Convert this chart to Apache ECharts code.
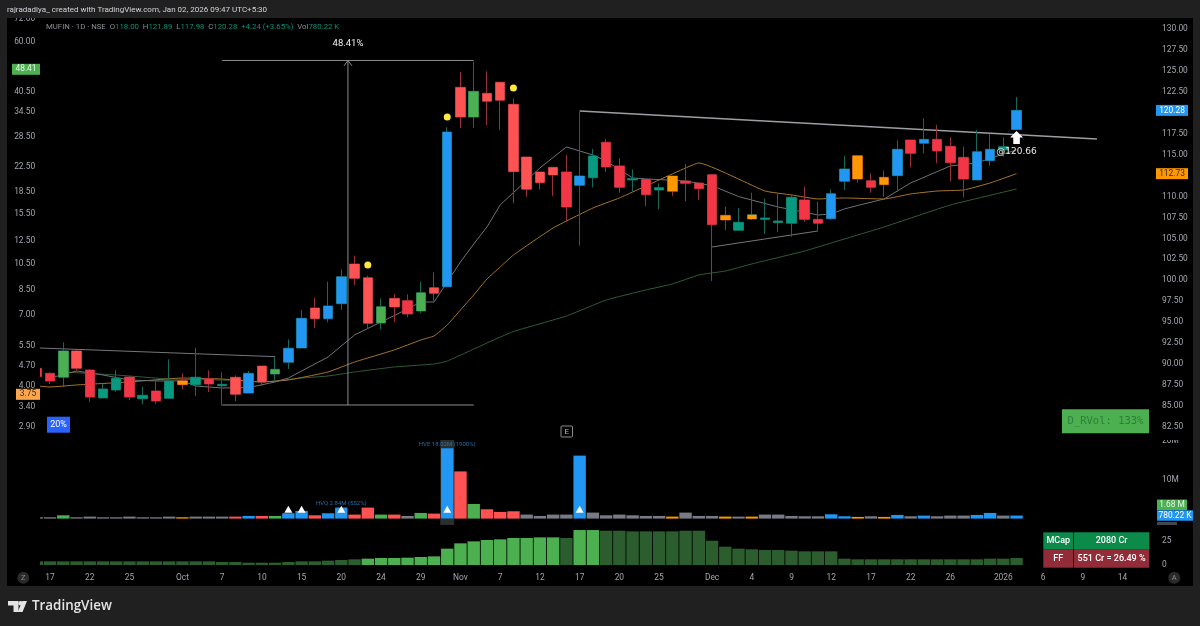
<!DOCTYPE html>
<html>
<head>
<meta charset="utf-8">
<title>MUFIN 1D</title>
<script src="https://cdn.jsdelivr.net/npm/echarts@6/dist/echarts.min.js"></script>
<style>
html, body { margin: 0; padding: 0; background: #202020; }
#main { width: 1200px; height: 626px; }
</style>
</head>
<body>
<div id="main"></div>
<script>
// candles
const opens = [89.50,88.90,88.43,91.57,89.30,85.96,86.91,88.46,85.87,86.79,
    85.92,88.02,87.54,88.26,87.42,88.43,86.55,89.77,88.82,90.22,
    91.92,96.70,95.42,97.21,101.95,100.31,94.91,97.85,97.57,96.34,
    99.12,99.24,123.04,119.49,122.32,123.64,121.01,114.72,112.93,113.49,
    112.93,111.34,112.25,116.48,113.65,111.98,112.06,110.78,112.45,111.86,
    111.62,112.61,107.76,105.97,107.32,107.28,106.88,106.81,109.59,107.28,
    107.36,111.82,114.88,111.89,112.30,112.49,116.75,116.36,116.83,116.00,
    114.68,111.98,114.28,115.56,118.00];
const closes = [88.50,87.98,91.57,89.50,86.07,87.03,88.31,86.07,86.28,85.60,
    87.98,87.54,88.43,87.63,87.59,86.40,88.90,87.86,89.38,91.89,
    95.47,95.42,96.94,100.43,100.24,94.87,96.85,96.82,95.98,98.52,
    98.45,117.70,119.49,122.56,121.37,121.49,112.97,110.87,111.65,112.57,
    108.75,112.45,114.84,113.53,111.10,112.13,110.22,111.06,110.63,111.58,
    110.94,106.64,107.20,106.93,107.83,107.44,107.08,109.91,107.28,106.81,
    110.34,113.29,112.09,111.10,111.41,115.64,115.16,116.83,115.44,114.04,
    112.09,115.35,115.64,115.95,120.28];
const highs = [89.66,89.02,92.60,91.68,89.38,87.71,89.30,88.58,87.30,87.90,
    90.57,88.90,91.96,89.26,89.02,88.66,89.21,89.77,90.88,92.96,
    96.46,97.89,99.84,101.32,102.94,100.55,97.85,98.40,98.33,99.84,
    100.96,118.27,124.87,126.06,124.95,123.64,121.73,114.72,112.93,113.49,
    114.96,120.13,115.68,116.87,114.57,113.25,112.06,111.58,112.45,113.88,
    111.62,112.61,108.79,108.63,110.46,109.74,110.39,110.22,111.18,109.39,
    110.86,114.88,114.88,112.77,113.09,116.71,116.75,119.34,118.54,117.07,
    115.95,117.94,117.47,117.07,121.89];
const lows = [88.30,87.63,87.23,89.14,85.51,85.96,86.71,85.72,85.20,85.27,
    85.92,86.99,86.19,86.67,85.08,85.56,86.55,87.39,88.10,89.42,
    91.92,94.31,94.99,96.46,99.44,94.23,94.15,94.99,95.59,96.06,
    97.57,99.24,118.18,118.18,118.54,117.94,109.19,109.98,110.87,110.07,
    107.08,104.13,111.10,112.97,110.46,110.58,108.87,108.48,110.07,109.43,
    109.59,99.92,106.01,105.97,107.20,105.53,105.80,105.21,106.96,105.92,
    107.20,110.78,111.65,110.46,109.98,110.58,113.49,115.16,113.97,111.82,
    109.91,111.98,113.68,114.76,117.98];
const bodyKinds = ('RRGrRTTRTR' + 'TOTRTrBrGB' + 'BrBBrrGrRG' + 'rBrGrrrrrr' + 'RBTRRTRTOR' +
    'RROTOTTTRR' + 'BBOROBRBRR' + 'RBBTB').split('');

const volumes = [0.34,0.34,0.85,0.34,0.51,0.34,0.34,0.51,0.34,0.34,
    0.51,0.34,0.51,0.51,0.51,0.51,0.68,0.68,0.68,1.37,
    1.97,0.85,1.37,2.84,1.03,2.82,1.03,1.03,0.68,1.45,
    1.28,18.02,12.1,3.76,2.39,1.71,1.88,1.03,0.68,1.03,
    1.03,16.15,1.54,0.85,1.03,0.85,0.68,0.68,0.51,1.54,
    0.68,0.68,0.51,0.51,0.51,1.03,1.03,0.68,0.6,0.6,
    1.11,0.6,0.43,0.6,0.43,0.94,0.6,0.77,0.6,0.77,
    0.77,0.94,1.45,0.77,0.78];
const volumeKinds = ('ggGggggggg' + 'gOgggrBrGB' + 'BrBBrrGrgG' + 'rBrGrrrggg' + 'gBggggggOg' +
    'ggOgOggggg' + 'BBOgOBgBgg' + 'gBBgB').split('');

const lowerValues = [3.86,3.86,3.86,3.86,3.86,3.86,3.86,3.86,3.86,3.86,
    3.86,3.86,3.86,3.86,3.16,3.16,2.46,2.46,2.46,3.16,
    3.86,3.86,4.56,5.26,5.96,6.67,7.37,7.37,7.7,8.4,
    9.1,17.2,22.8,24.9,26.3,27,28.4,28.4,29.1,29.1,
    28.4,36.8,36.8,36.1,36.1,35.4,35.4,35.4,35.4,36.1,
    36.1,25.6,19.3,17.2,16.5,15.8,15.8,15.1,14.4,14.4,
    14.4,6.67,6,6,6,6,6,6,6,6,
    6,6,6.67,6.67,7.4];
const lowerLight = [25,26,27,28,29,30,31,32,33,34,35,36,37,38,39,41,42];

// moving averages, [bar, price] at the places where they bend
const maFast = [[1,88.34],[3,89.18],[5,88.70],[7,88.10],[9,87.99],[11,87.99],[12,87.39],[14,87.15],[16,87.20],[18,87.87],
    [19,88.34],[22,90.85],[24,93.48],[27,95.80],[28,96.58],[29,97.41],[30,97.41],[31,99.80],[32,102.19],[33,104.34],[34,106.37],
    [35,109.00],[38,113.41],[40,115.92],[42,114.96],[43,114.24],[45,112.22],[46,112.10],[49,111.86],[51,111.30],[53,110.00],
    [56,108.75],[59,107.80],[60,107.92],[61,108.52],[62,108.93],[64,109.71],[66,111.62],[69,113.65],[71,114.01],[73,115.08],[74,115.56]];
const maMid = [[0,87.39],[1,87.27],[3,87.51],[7,87.87],[11,88.34],[14,88.22],[17,87.87],[19,88.10],[22,89.06],[24,90.25],
    [27,91.69],[29,92.88],[30,93.36],[31,94.67],[32,96.46],[33,98.25],[34,100.16],[35,101.59],[36,103.02],[39,106.25],
    [42,108.63],[44,109.83],[47,111.98],[49,113.41],[50,114.01],[55,110.66],[57,110.19],[59,109.71],[61,109.83],[64,109.71],
    [66,110.31],[68,110.66],[70,110.78],[72,111.62],[74,112.73]];
const maSlow = [[2,89.06],[6,88.70],[10,88.22],[14,88.10],[17,87.86],[20,88.34],[22,88.58],[24,89.06],[27,89.66],[30,90.01],
    [31,90.37],[34,92.52],[36,93.89],[40,95.74],[43,97.65],[46,98.85],[48,99.56],[50,100.64],[52,101.11],[54,101.95],
    [58,103.50],[60,104.46],[64,106.37],[69,108.99],[74,110.90]];

// drawn lines
const lineTopLeft = [[0.24,91.92],[18,90.89]];
const lineBig = [[41,120.21],[80.07,116.87]];
const lineLower = [[51,103.98],[59,105.89]];
const measureTop = [[14,126.24],[33,126.24]];
const measureBottom = [[14,85.12],[33,85.12]];
const measureStem = [[23.5,85.12],[23.5,126.24]];
const measureHead = [[23.2,125.6],[23.5,126.24],[23.8,125.6]];

const yellowDots = [[25,101.83],[31,119.5],[36,122.96]];
const hvTriangles = [[19,2.4],[20,2.4],[23,2.4],[31,2.4],[41,2.4]];
const hvLabels = [[23,3.87,'HVQ 2.84M (552%)'],[31,18.87,'HVE 18.02M (1900%)']];
const breakoutArrow = [74,117.05];

const priceTicks = [130,127.5,125,122.5,120,117.5,115,112.5,110,107.5,105,102.5,100,97.5,95,92.5,90,87.5,85,82.5];
const leftTicks = [72,60,40.5,34.5,28.5,22.5,18.5,15.5,12.5,10.5,8.5,7,5.5,4.7,4,3.4,2.9];
const volumeTicks = [20,10];
const lowerTicks = [25,0];

const barCount = 85;
const xTickBars = [1,4,7,11,14,17,20,23,26,29,32,35,38,41,44,47,51,54,57,60,63,66,69,73,76,79,82];
const xTickLabels = ['17','22','25','Oct','7','10','15','20','24','29','Nov','7','12','17','20','25','Dec','4','9','12','17','22','26','2026','6','9','14'];

const FONT = 'Roboto, "Liberation Sans", sans-serif';
const AXIS_TEXT = '#a3a6af';
const AXIS_SIZE = 8.4;
const RED_DIM = '#f23645', RED = '#ff5252', GREEN = '#4caf50', TEAL = '#089981', BLUE = '#2196f3', ORANGE = '#ff9800', GRAY = '#787b86';
const bodyColors = { R: RED_DIM, r: RED, G: GREEN, T: TEAL, B: BLUE, O: ORANGE };
const volumeColors = { g: GRAY, r: RED, G: GREEN, B: BLUE, O: ORANGE };
const WICK_UP = '#14695a', WICK_DOWN = '#95303c';

const BAND = 13.24;
const LEFT = 30.18;
const gridWidth = BAND * barCount;

const categories = [];
for (let i = 0; i < barCount; i++) {
    const at = xTickBars.indexOf(i);
    categories.push(at >= 0 ? xTickLabels[at] : '');
}

const wickData = opens.map((o, i) => {
    const color = closes[i] >= o ? WICK_UP : WICK_DOWN;
    return {
        value: [o, closes[i], lows[i], highs[i]],
        itemStyle: { color: 'transparent', color0: 'transparent', borderColor: color, borderColor0: color }
    };
});
const bodyData = opens.map((o, i) => {
    const color = bodyColors[bodyKinds[i]];
    return {
        value: [o, closes[i], Math.min(o, closes[i]), Math.max(o, closes[i])],
        itemStyle: { color: color, color0: color, borderColor: color, borderColor0: color, borderWidth: 0 }
    };
});
const volumeData = volumes.map((v, i) => ({ value: v, itemStyle: { color: volumeColors[volumeKinds[i]] } }));
const lowerData = lowerValues.map((v, i) => ({
    value: v,
    itemStyle: { color: lowerLight.indexOf(i) >= 0 ? '#4caf50' : '#2b5d2f' }
}));

function lineSeries(data, color, width, z, smooth) {
    return {
        type: 'line', data: data, xAxisIndex: 3, yAxisIndex: 0, showSymbol: false, symbol: 'none',
        smooth: smooth || false, lineStyle: { color: color, width: width }, z: z, silent: true, animation: false
    };
}

function hiddenX(gridIndex) {
    return {
        type: 'category', gridIndex: gridIndex, data: categories, show: false
    };
}

function rightAxis(gridIndex, min, max, ticks, formatter) {
    return {
        type: 'value', gridIndex: gridIndex, position: 'right', min: min, max: max, scale: true,
        axisLine: { show: false }, axisTick: { show: false }, splitLine: { show: false },
        axisLabel: {
            color: AXIS_TEXT, fontFamily: FONT, fontSize: AXIS_SIZE, margin: 6.5,
            customValues: ticks, formatter: formatter
        }
    };
}

const chart = echarts.init(document.getElementById('main'), null, { renderer: 'canvas' });

chart.setOption({
    animation: false,
    backgroundColor: '#202020',
    grid: [
        { left: LEFT, top: 18, width: gridWidth, height: 419 },
        { left: LEFT, top: 440, width: gridWidth, height: 78.6 },
        { left: LEFT, top: 525, width: gridWidth, height: 40 }
    ],
    xAxis: [
        hiddenX(0),
        hiddenX(1),
        {
            type: 'category', gridIndex: 2, data: categories,
            axisLine: { show: false }, axisTick: { show: false },
            axisLabel: { interval: 0, hideOverlap: false, color: AXIS_TEXT, fontFamily: FONT, fontSize: AXIS_SIZE, margin: 9 }
        },
        { type: 'value', gridIndex: 0, min: -0.5, max: barCount - 0.5, show: false }
    ],
    yAxis: [
        rightAxis(0, 81.3, 131.31, priceTicks, v => v.toFixed(2)),
        {
            // the left scale is logarithmic, it runs on log10 of the value
            type: 'value', gridIndex: 0, position: 'left', z: 8,
            min: Math.log10(2.68), max: Math.log10(72.5),
            axisLine: { show: false }, axisTick: { show: false }, splitLine: { show: false },
            axisLabel: {
                color: AXIS_TEXT, fontFamily: FONT, fontSize: AXIS_SIZE, margin: -5,
                customValues: leftTicks.map(v => Math.log10(v)),
                formatter: v => Math.pow(10, v).toFixed(2)
            }
        },
        rightAxis(1, 0, 20.15, volumeTicks, v => v + 'M'),
        rightAxis(2, 0, 42.1, lowerTicks, v => String(v))
    ],
    series: [
        lineSeries(maSlow, '#2f5d38', 1, 1, 0.12),
        lineSeries(maMid, '#a8752a', 1, 1, 0.12),
        lineSeries(maFast, '#6f7277', 1, 1),
        lineSeries(lineTopLeft, '#74767b', 1, 2),
        lineSeries(lineLower, '#74767b', 1, 2),
        lineSeries(lineBig, '#9c9ea3', 1.6, 2),
        lineSeries(measureTop, '#8a8c90', 1, 2),
        lineSeries(measureBottom, '#8a8c90', 1, 2),
        lineSeries(measureStem, '#8a8c90', 1, 2),
        lineSeries(measureHead, '#8a8c90', 1, 2),
        {
            type: 'candlestick', data: wickData, xAxisIndex: 0, yAxisIndex: 0, barWidth: 10, z: 2,
            itemStyle: { borderWidth: 1 }
        },
        {
            type: 'candlestick', data: bodyData, xAxisIndex: 0, yAxisIndex: 0, barWidth: 10, z: 3
        },
        {
            type: 'scatter', data: yellowDots, xAxisIndex: 3, yAxisIndex: 0, symbolSize: 7, z: 3,
            itemStyle: { color: '#ffeb3b', opacity: 1 }
        },
        {
            type: 'scatter', data: [breakoutArrow], xAxisIndex: 0, yAxisIndex: 0, z: 5,
            symbol: 'path://M6.5 0 L13 6.5 L9.8 6.5 L9.8 13 L3.2 13 L3.2 6.5 L0 6.5 Z', symbolSize: 13,
            itemStyle: { color: '#ffffff', opacity: 1 },
            label: {
                show: true, position: 'bottom', distance: 3, formatter: '@120.66',
                color: '#e8e8e8', fontFamily: '"DejaVu Sans", sans-serif', fontSize: 9
            }
        },
        {
            type: 'bar', data: volumeData, xAxisIndex: 1, yAxisIndex: 2, barWidth: 12.4, z: 2
        },
        {
            type: 'scatter', data: hvTriangles, xAxisIndex: 1, yAxisIndex: 2, symbol: 'triangle',
            symbolSize: [8, 7], z: 3, itemStyle: { color: '#ffffff', opacity: 1 }
        },
        {
            type: 'scatter', data: hvLabels, xAxisIndex: 1, yAxisIndex: 2, symbolSize: 0, z: 3,
            label: {
                show: true, position: 'inside', color: '#2a86d0', fontFamily: FONT, fontSize: 6,
                formatter: p => p.value[2]
            }
        },
        {
            type: 'bar', data: lowerData, xAxisIndex: 2, yAxisIndex: 3, barWidth: 12.4, z: 2
        }
    ]
});

function box(x, y, w, h, fill, z) {
    return { type: 'rect', shape: { x: x, y: y, width: w, height: h }, style: { fill: fill }, z: z || 11, silent: true };
}

function label(text, x, y, fill, size, align, family, weight) {
    return {
        type: 'text', z: 12, silent: true,
        style: {
            text: text, x: x, y: y, fill: fill, align: align || 'center', verticalAlign: 'middle',
            font: (weight || 'normal') + ' ' + size + 'px ' + (family || FONT)
        }
    };
}

function poly(points, fill) {
    return { type: 'polygon', z: 11, silent: true, shape: { points: points }, style: { fill: fill } };
}

const priceY = v => chart.convertToPixel({ yAxisIndex: 0 }, v);
const leftY = v => chart.convertToPixel({ yAxisIndex: 1 }, Math.log10(v));
const volumeY = v => chart.convertToPixel({ yAxisIndex: 2 }, v);
const hveX = chart.convertToPixel({ xAxisIndex: 1 }, 31);

const closeY = priceY(closes[74]);
const midY = priceY(112.73);
const lastVolY = volumeY(volumes[74]);

chart.setOption({
    graphic: [
        // panel and the parts of the chart it hides
        box(0, 0, 1200, 626, '#202020', -2),
        box(7, 18, 1186, 568, '#000000', -1),
        box(hveX - 7, 440, 14, 85, '#2b2f2b', 1),
        box(7, 18, 33, 548, '#000000', 4),
        box(1150, 433.5, 43, 6.5, '#000000', 8),
        box(0, 0, 1200, 18, '#202020', 9),
        label('rajradadiya_ created with TradingView.com, Jan 02, 2026 09:47 UTC+5:30', 7, 10, '#d1d4dc', 8, 'left'),
        {
            type: 'text', z: 12, silent: true,
            style: {
                x: 46, y: 27, verticalAlign: 'middle', font: '7.8px ' + FONT, fill: '#8b8e96',
                text: 'MUFIN · 1D · NSE  {k|O}{v|118.00}  {k|H}{v|121.89}  {k|L}{v|117.98}  {k|C}{v|120.28}  {v|+4.24 (+3.65%)}  {k|Vol}{v|780.22 K}',
                rich: {
                    k: { fill: '#8b8e96', font: '7.8px ' + FONT },
                    v: { fill: '#0b8f78', font: '7.8px ' + FONT }
                }
            }
        },
        label('48.41%', 348, 44, '#f0f0f0', 9.5),

        // left scale tags
        box(12, leftY(48.41) - 5.5, 28, 11, '#4caf50'),
        label('48.41', 26, leftY(48.41), '#e8f5e9', AXIS_SIZE),
        box(16, leftY(3.75) - 5.5, 24, 11, '#ffa64d'),
        label('3.75', 28, leftY(3.75), '#3a2a10', AXIS_SIZE),
        box(47, 416.7, 23, 16, '#2962ff'),
        label('20%', 58.5, 424.7, '#ffffff', 9),

        // earnings flag
        {
            type: 'rect', z: 11, silent: true, shape: { x: 561, y: 426, width: 11.5, height: 11, r: 1 },
            style: { fill: '#000000', stroke: '#8a8c90', lineWidth: 1 }
        },
        label('E', 566.8, 431.7, '#b2b5be', 8),

        // right scale tags
        box(1156, closeY - 5.5, 32, 11, BLUE),
        label('120.28', 1172, closeY, '#ffffff', AXIS_SIZE),
        box(1156, midY - 5.5, 32, 11, ORANGE),
        label('112.73', 1172, midY, '#3a2a10', AXIS_SIZE),
        box(1157, lastVolY - 16, 30, 10.5, GREEN),
        label('1.68 M', 1172, lastVolY - 10.7, '#e8f5e9', AXIS_SIZE),
        box(1157, lastVolY - 5.3, 36, 10.6, BLUE),
        label('780.22 K', 1175, lastVolY, '#ffffff', AXIS_SIZE),
        box(1157, 522, 20, 3, '#44464c'),

        // info boxes
        box(1062, 409.3, 87, 24, '#4caf50'),
        label('D_RVol: 133%', 1105.5, 421.5, '#2f7d3c', 10.5, 'center', '"DejaVu Sans Mono", monospace'),
        box(1043.3, 532.3, 30, 17.4, '#0b8a4a'),
        box(1074, 532.3, 75.3, 17.4, '#0b8a4a'),
        box(1043.3, 550, 30, 17.7, '#912c38'),
        box(1074, 550, 75.3, 17.7, '#912c38'),
        label('MCap', 1058.3, 541, '#ffffff', 9, 'center', null, '500'),
        label('2080 Cr', 1111.6, 541, '#ffffff', 9, 'center', null, '500'),
        label('FF', 1058.3, 559, '#ffffff', 9, 'center', null, '500'),
        label('551 Cr = 26.49 %', 1111.6, 559, '#ffffff', 9, 'center', null, '500'),

        // corner buttons
        { type: 'circle', z: 11, silent: true, shape: { cx: 23.3, cy: 577.7, r: 6 }, style: { fill: '#2a2a2a' } },
        label('Z', 23.3, 577.9, '#8a8c90', 7.5),
        { type: 'circle', z: 11, silent: true, shape: { cx: 1174.3, cy: 577.7, r: 6 }, style: { fill: '#2a2a2a' } },
        label('A', 1174.3, 577.9, '#8a8c90', 7.5),

        // footer logo
        poly([[8,601],[18.5,601],[18.5,612],[13.5,612],[13.5,605.5],[8,605.5]], '#e4e4e4'),
        poly([[22.3,601],[27,601],[22.5,612],[17.8,612]], '#e4e4e4'),
        { type: 'circle', z: 11, silent: true, shape: { cx: 20.5, cy: 603.2, r: 2.2 }, style: { fill: '#e4e4e4' } },
        label('TradingView', 32, 606.5, '#e4e4e4', 13.4, 'left', '"Open Sans", sans-serif', '600')
    ]
});
</script>
</body>
</html>
